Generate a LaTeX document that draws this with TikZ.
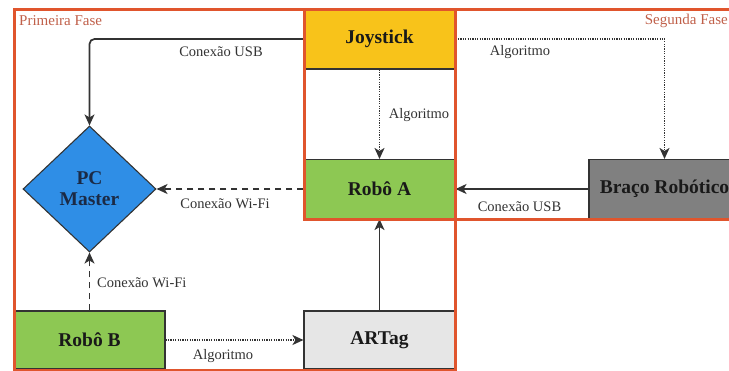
\documentclass[tikz,border=0pt]{standalone}
\usepackage{fontspec}
\setmainfont{Liberation Serif}
\usetikzlibrary{arrows.meta,shapes.geometric}

\definecolor{frameorange}{HTML}{E0552D}
\definecolor{phasetext}{HTML}{C0604A}
\definecolor{ink}{HTML}{333333}
\definecolor{joyyellow}{HTML}{F8C31A}
\definecolor{robgreen}{HTML}{8DC853}
\definecolor{pcblue}{HTML}{2F8EE6}
\definecolor{armgray}{HTML}{808080}
\definecolor{taggray}{HTML}{E6E6E6}
\definecolor{navy}{HTML}{1B2A45}

\tikzset{
  block/.style={draw=ink, line width=1.1pt, minimum width=151pt, inner sep=0pt,
    font=\fontsize{19.5}{22}\selectfont\bfseries, text=black!90},
  diam/.style={diamond, draw=ink, line width=1.1pt, fill=pcblue, aspect=1.056,
    minimum width=133pt, minimum height=126pt, inner sep=0pt, align=center,
    font=\fontsize{19.5}{21}\selectfont\bfseries, text=navy},
  conn/.style={draw=ink, line width=1.7pt, -{Stealth[length=11pt,width=10pt,inset=3pt]}},
  dotline/.style={conn, dash pattern=on 1.2pt off 1.2pt},
  dashline/.style={conn, dash pattern=on 6pt off 5pt},
  lbl/.style={font=\fontsize{14.5}{17}\selectfont, text=ink, inner sep=0pt},
  phase/.style={draw=frameorange, line width=3pt},
  phaselbl/.style={font=\fontsize{15}{17}\selectfont, text=phasetext, inner sep=0pt}
}

\begin{document}
\begin{tikzpicture}[x=1pt, y=-1pt]
  \useasboundingbox (0,0) rectangle (729,370);
  \clip (0,0) rectangle (729,370);

  % blocks
  \node[block, fill=joyyellow, minimum height=60pt] (joy) at (379.5,39) {Joystick};
  \node[block, fill=robgreen, minimum height=59pt] (roba) at (379.5,189) {Robô A};
  \node[block, fill=armgray, minimum height=59pt] (braco) at (664.5,189) {Braço Robótico};
  \node[block, fill=robgreen, minimum height=58pt] (robb) at (89.5,340) {Robô B};
  \node[block, fill=taggray, minimum height=58pt] (artag) at (379.5,340) {ARTag};
  \node[diam] (pc) at (89.5,189) {PC\\Master};

  % connectors
  \draw[conn, rounded corners=5pt] (joy.west) -| (pc.north);
  \draw[dotline] (joy.south) -- (roba.north);
  \draw[dotline] (joy.east) -| (braco.north);
  \draw[conn] (braco.west) -- (roba.east);
  \draw[dashline] (roba.west) -- (pc.east);
  \draw[dashline] (robb.north) -- (pc.south);
  \draw[dotline] (robb.east) -- (artag.west);
  \draw[conn] (artag.north) -- (roba.south);

  % connector labels
  \node[lbl] (l1) at (221,52) {Conexão USB};
  \node[lbl] (l2) at (419,115) {Algoritmo};
  \node[lbl] (l3) at (520,52) {Algoritmo};
  \node[lbl] (l4) at (519.5,207) {Conexão USB};
  \node[lbl] (l5) at (225,204) {Conexão Wi-Fi};
  \node[lbl, anchor=west] (l6) at (97,283) {Conexão Wi-Fi};
  \node[lbl] (l7) at (223,356) {Algoritmo};

  % phase frames
  \draw[phase] (14,9) rectangle (455,370);
  \draw[phase] (304,9) rectangle (770,219);
  \node[phaselbl, anchor=west] (p1) at (19,21) {Primeira Fase};
  \node[phaselbl, anchor=east] (p2) at (728,21) {Segunda Fase};
\end{tikzpicture}
\end{document}
